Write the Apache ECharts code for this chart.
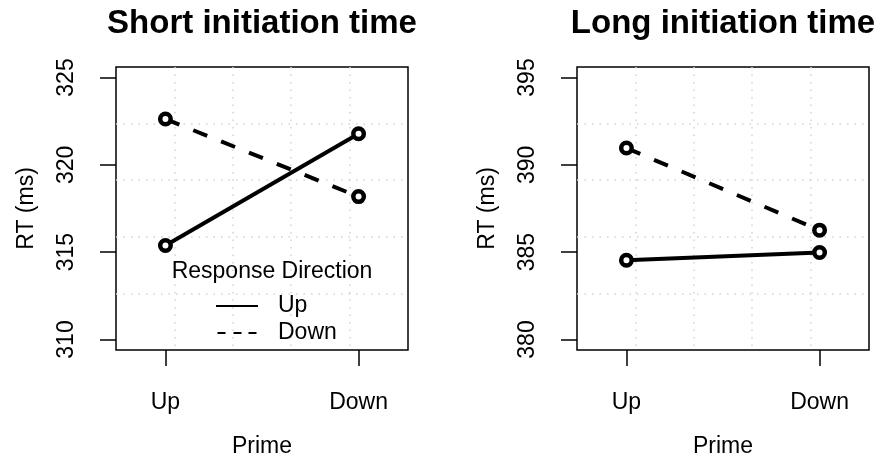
<!DOCTYPE html>
<html><head><meta charset="utf-8">
<script src="https://cdn.jsdelivr.net/npm/echarts@6/dist/echarts.min.js"></script>
<style>html,body{margin:0;padding:0;background:#fff}#c{width:879px;height:460px}</style>
</head><body><div id="c"></div>
<script>
// ---- data ----
const categories = ['Up', 'Down'];
const seriesNames = ['Up', 'Down'];
const panelTitles = ['Short initiation time', 'Long initiation time'];
const shortUp = [315.38, 321.78];
const shortDown = [322.62, 318.18];
const longUp = [384.54, 384.98];
const longDown = [390.96, 386.26];
const shortTicks = [310, 315, 320, 325];
const longTicks = [380, 385, 390, 395];
const xTitle = 'Prime';
const yTitle = 'RT (ms)';
const legendTitle = 'Response Direction';

// ---- style ----
const FONT = '"Liberation Sans", Arial, Helvetica, sans-serif';
const txt = {color: '#000', fontSize: 23, fontFamily: FONT};
const gridLeft = [116, 577];
const gridTop = 67, gridW = 292, gridH = 283;
const dashPattern = [15, 15];

function yRange(ticks) {
  const lo = ticks[0], hi = ticks[ticks.length - 1], ext = (hi - lo) * 0.04;
  return [lo - ext, hi + ext];
}

const grids = [], xAxes = [], yAxes = [], series = [];
const panels = [
  {ticks: shortTicks, data: [shortUp, shortDown]},
  {ticks: longTicks, data: [longUp, longDown]}
];
const catPos = categories.map((c, k) => k + 1);

panels.forEach((p, i) => {
  grids.push({left: gridLeft[i], top: gridTop, width: gridW, height: gridH,
    outerBoundsMode: 'none', containLabel: false,
    show: true, borderColor: '#000', borderWidth: 1.5, backgroundColor: 'transparent'});
  const yr = yRange(p.ticks);
  xAxes.push({
    gridIndex: i, type: 'value', min: 0.744, max: 2.256, position: 'bottom',
    axisLine: {show: false},
    axisTick: {show: true, customValues: catPos, length: 16, lineStyle: {color: '#000', width: 1.5}},
    axisLabel: {show: true, customValues: catPos, margin: 41, ...txt,
      formatter: v => categories[Math.round(v) - 1]},
    splitLine: {show: false},
    name: xTitle, nameLocation: 'middle', nameGap: 85, nameTextStyle: {...txt}
  });
  xAxes.push({
    gridIndex: i, type: 'value', min: 0, max: 5, interval: 1, position: 'top',
    axisLine: {show: false}, axisTick: {show: false}, axisLabel: {show: false},
    splitLine: {show: true, showMinLine: false, showMaxLine: false,
      lineStyle: {color: '#d3d3d3', width: 1.5, type: [1.5, 6]}}
  });
  yAxes.push({
    gridIndex: i, type: 'value', min: yr[0], max: yr[1], position: 'left',
    axisLine: {show: false},
    axisTick: {show: true, customValues: p.ticks, length: 16, lineStyle: {color: '#000', width: 1.5}},
    axisLabel: {show: true, customValues: p.ticks, rotate: 90, margin: 38, ...txt},
    splitLine: {show: false},
    name: yTitle, nameLocation: 'middle', nameGap: 78, nameTextStyle: {...txt}
  });
  yAxes.push({
    gridIndex: i, type: 'value', min: 0, max: 5, interval: 1, position: 'right',
    axisLine: {show: false}, axisTick: {show: false}, axisLabel: {show: false},
    splitLine: {show: true, showMinLine: false, showMaxLine: false,
      lineStyle: {color: '#d3d3d3', width: 1.5, type: [1.5, 6]}}
  });
  p.data.forEach((vals, s) => {
    series.push({
      type: 'line', name: seriesNames[s], xAxisIndex: 2 * i, yAxisIndex: 2 * i,
      data: vals.map((v, k) => [catPos[k], v]),
      symbol: 'circle', symbolSize: 10.5,
      lineStyle: {color: '#000', width: 4, type: s === 0 ? 'solid' : dashPattern},
      itemStyle: {color: '#fff', borderColor: '#000', borderWidth: 4.5},
      emphasis: {disabled: true}, silent: true, z: 3
    });
  });
});

const chart = echarts.init(document.getElementById('c'), null, {renderer: 'canvas'});
chart.setOption({
  animation: false,
  backgroundColor: '#fff',
  title: [
    {text: panelTitles[0], left: gridLeft[0] + gridW / 2, top: 7, textAlign: 'center', padding: 0,
      textStyle: {color: '#000', fontSize: 33, fontWeight: 'bold', fontFamily: FONT}},
    {text: panelTitles[1], left: gridLeft[1] + gridW / 2, top: 7, textAlign: 'center', padding: 0,
      textStyle: {color: '#000', fontSize: 33, fontWeight: 'bold', fontFamily: FONT}},
    {text: legendTitle, left: 272, top: 260, textAlign: 'center', padding: 0,
      textStyle: {...txt, fontWeight: 'normal'}}
  ],
  legend: {
    show: true, orient: 'vertical', left: 216, top: 294, padding: 0,
    itemWidth: 42, itemHeight: 2, itemGap: 3, symbolKeepAspect: true, selectedMode: false,
    itemStyle: {color: '#000', borderWidth: 0, opacity: 1},
    data: [
      {name: seriesNames[0], icon: 'path://M0,0h42v2h-42z'},
      {name: seriesNames[1], icon: 'path://M0,0h8v2h-8zM16,0h8v2h-8zM31,0h8v2h-8z'}
    ],
    textStyle: {...txt, lineHeight: 24, padding: [0, 0, 0, 15]}
  },
  grid: grids,
  xAxis: xAxes,
  yAxis: yAxes,
  series: series
});
</script>
</body></html>
